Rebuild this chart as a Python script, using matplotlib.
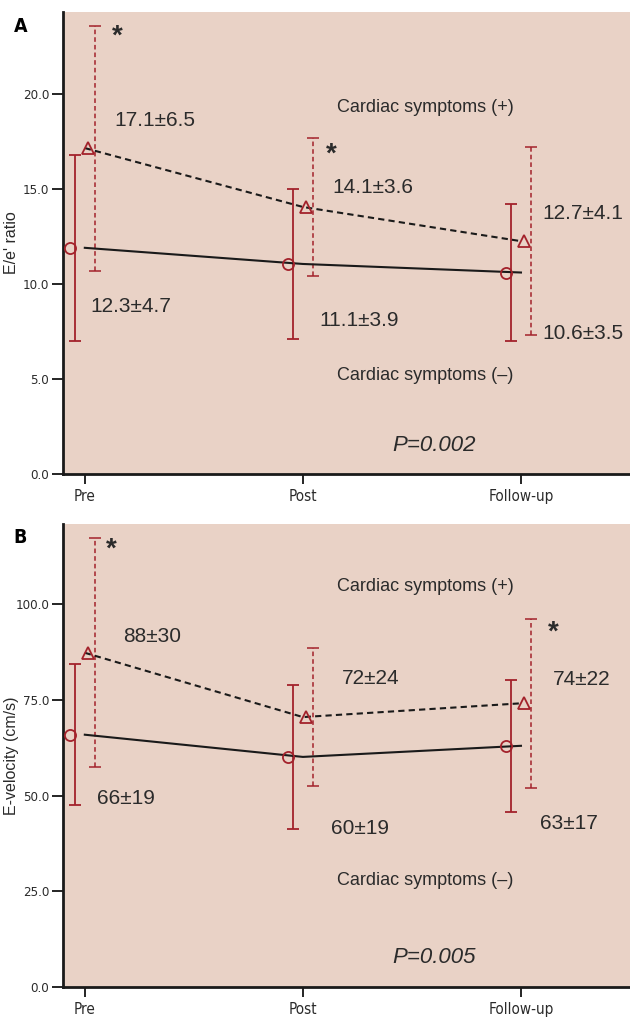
import matplotlib
matplotlib.use("Agg")
import matplotlib.pyplot as plt
import numpy as np

# categories
times = ["Pre", "Post", "Follow-up"]

# panel A: E/e' ratio
ee_neg_mean = [11.9, 11.05, 10.6]
ee_neg_sd = [4.9, 3.95, 3.6]
ee_pos_mean = [17.15, 14.05, 12.25]
ee_pos_sd = [6.45, 3.65, 4.95]
ee_neg_labels = ["12.3±4.7", "11.1±3.9", "10.6±3.5"]
ee_pos_labels = ["17.1±6.5", "14.1±3.6", "12.7±4.1"]
ee_ticks = [0, 5, 10, 15, 20]

# panel B: E-velocity (cm/s)
ev_neg_mean = [65.9, 60.1, 63.0]
ev_neg_sd = [18.4, 18.8, 17.3]
ev_pos_mean = [87.3, 70.5, 74.1]
ev_pos_sd = [29.9, 18.0, 22.0]
ev_neg_labels = ["66±19", "60±19", "63±17"]
ev_pos_labels = ["88±30", "72±24", "74±22"]
ev_ticks = [0, 25, 50, 75, 100]

BG = "#e9d2c6"
RED = "#a3222b"
TXT = "#2b2b2b"
ANN = ["Liberation Sans", "DejaVu Sans"]

fig = plt.figure(figsize=(6.3, 10.17), dpi=100)


def panel(rect, letter, ylabel, ymax, ticks, neg_m, neg_sd, pos_m, pos_sd,
          neg_lab, pos_lab, neg_pos, pos_pos, stars, sym_y, pval, p_y):
    ax = fig.add_axes(rect)
    ax.set_facecolor(BG)
    x = np.arange(len(times))

    # group lines
    ax.plot(x, neg_m, color="#1a1a1a", lw=1.5, zorder=3)
    ax.plot(x, pos_m, color="#1a1a1a", lw=1.5, ls=(0, (3, 2)), zorder=3)

    # error bars, offset from tick
    ax.errorbar(x - 0.046, neg_m, yerr=neg_sd, fmt="none", ecolor=RED,
                elinewidth=1.3, capsize=4, capthick=1.3, zorder=2)
    eb = ax.errorbar(x + 0.046, pos_m, yerr=pos_sd, fmt="none", ecolor=RED,
                     elinewidth=1.1, capsize=4, capthick=1.1, zorder=2)
    eb[2][0].set_linestyle((0, (3, 2)))
    ax.plot(x - 0.07, neg_m, "o", ms=8, mfc="none", mec=RED, mew=1.3, zorder=4)
    ax.plot(x + 0.014, pos_m, "^", ms=9, mfc="none", mec=RED, mew=1.3, zorder=4)

    for lab, (tx, ty, ha) in zip(neg_lab, neg_pos):
        ax.text(tx, ty, lab, fontsize=15, color=TXT, ha=ha, va="center", family=ANN)
    for lab, (tx, ty, ha) in zip(pos_lab, pos_pos):
        ax.text(tx, ty, lab, fontsize=15, color=TXT, ha=ha, va="center", family=ANN)
    for sx, sy in stars:
        ax.text(sx, sy, "*", fontsize=20, color=TXT, ha="center", va="center",
                fontweight="bold", family=ANN)

    ax.text(1.56, sym_y[0], "Cardiac symptoms (+)", fontsize=13, color=TXT,
            ha="center", va="center", family=ANN)
    ax.text(1.56, sym_y[1], "Cardiac symptoms (–)", fontsize=13, color=TXT,
            ha="center", va="center", family=ANN)
    ax.text(1.6, p_y, pval, fontsize=16, color=TXT, ha="center", va="center",
            style="italic", family=ANN)

    ax.set_xlim(-0.1, 2.5)
    ax.set_ylim(0, ymax)
    ax.set_xticks(x)
    ax.set_xticklabels(times, family="DejaVu Sans", stretch="condensed",
                       fontsize=11, color=TXT)
    ax.set_yticks(ticks)
    ax.set_yticklabels([f"{t:.1f}" for t in ticks], family="DejaVu Sans",
                       stretch="condensed", fontsize=9.5, color=TXT)
    ax.tick_params(axis="y", length=8, width=1.2, pad=2)
    ax.tick_params(axis="x", length=7, width=1.2)
    ax.set_ylabel(ylabel, fontsize=11.5, color=TXT, family=ANN)
    ax.yaxis.set_label_coords(-0.078, 0.5)
    for s in ["top", "right"]:
        ax.spines[s].set_visible(False)
    for s in ["left", "bottom"]:
        ax.spines[s].set_linewidth(2)
        ax.spines[s].set_color("#1a1a1a")
    fig.text(0.022, rect[1] + rect[3] - 0.014, letter, fontsize=14,
             fontweight="bold", family="DejaVu Sans", stretch="condensed",
             va="center")
    return ax


panel([0.1, 0.534, 0.9, 0.454], "A", "E/e' ratio", 24.3, ee_ticks,
      ee_neg_mean, ee_neg_sd, ee_pos_mean, ee_pos_sd,
      ee_neg_labels, ee_pos_labels,
      [(0.21, 8.8, "center"), (1.26, 8.05, "center"), (2.1, 7.4, "left")],
      [(0.32, 18.6, "center"), (1.32, 15.1, "center"), (2.1, 13.7, "left")],
      [(0.15, 23.0), (1.13, 16.8)], (19.3, 5.2), "P=0.002", 1.5)

panel([0.1, 0.0295, 0.9, 0.4555], "B", "E-velocity (cm/s)", 121, ev_ticks,
      ev_neg_mean, ev_neg_sd, ev_pos_mean, ev_pos_sd,
      ev_neg_labels, ev_pos_labels,
      [(0.19, 49.3, "center"), (1.26, 41.5, "center"), (2.22, 42.8, "center")],
      [(0.31, 91.6, "center"), (1.31, 80.7, "center"), (2.28, 80.4, "center")],
      [(0.12, 114.2), (2.15, 92.5)], (104.7, 27.9), "P=0.005", 7.8)

fig.savefig("out.png", dpi=100)
